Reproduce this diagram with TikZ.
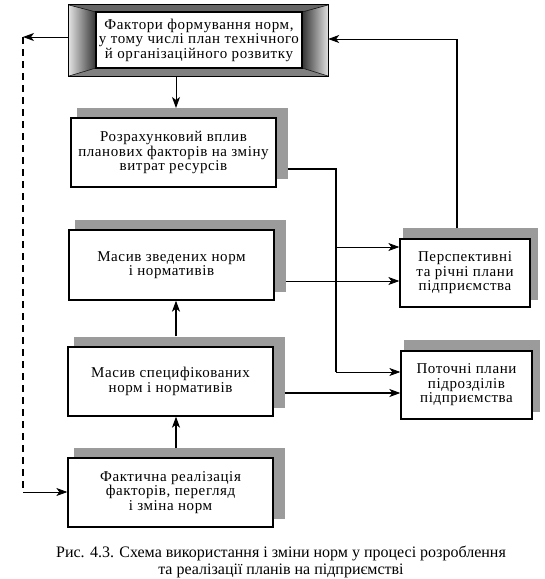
\documentclass[tikz,border=0pt]{standalone}
\usepackage{fontspec}
\setmainfont{Liberation Serif}
\newfontfamily\boxfont{Liberation Serif}[LetterSpace=4]
\usetikzlibrary{arrows.meta,backgrounds,calc}
\definecolor{shadowcol}{RGB}{155,155,155}
\tikzset{
  box/.style={draw=black, line width=1.3pt, fill=white, inner sep=0pt, align=center,
    font=\boxfont\fontsize{15}{14.5}\selectfont},
  conn/.style={draw=black, line width=0.8pt},
  thickconn/.style={draw=black, line width=1.3pt},
  arr/.style={-{Stealth[length=11pt,width=8pt,inset=3pt]}},
  dashconn/.style={draw=black, line width=1.6pt, dash pattern=on 7pt off 5pt},
  capt/.style={align=center, font=\fontsize{16}{17}\selectfont}
}
\begin{document}
\begin{tikzpicture}[x=1pt,y=-1pt]
\useasboundingbox (0,0) rectangle (545,579);
% top bevelled box
\node[inner sep=0pt, minimum width=259pt, minimum height=71pt] (top) at (198.5,40.5) {};
\shade[left color=gray!25, right color=black!80] (69,5) -- (96,12) -- (96,68) -- (69,76) -- cycle;
\shade[left color=black!80, right color=gray!25] (302,12) -- (328,5) -- (328,76) -- (302,68) -- cycle;
\fill[black!60] (69,5) -- (328,5) -- (302,12) -- (96,12) -- cycle;
\fill[black!50] (69,76) -- (328,76) -- (302,68) -- (96,68) -- cycle;
\draw[black, line width=0.5pt] (69,5) -- (96,12) (328,5) -- (302,12) (69,76) -- (96,68) (328,76) -- (302,68);
\draw[black, line width=1.3pt] (top.south west) rectangle (top.north east);
\node[box, minimum width=206pt, minimum height=56pt] (topin) at (199,40) {Фактори формування норм,\\у тому числі план технічного\\й організаційного розвитку};

\node[box, minimum width=205pt, minimum height=69pt] (b2) at (173.5,152.5) {Розрахунковий вплив\\планових факторів на зміну\\витрат ресурсів};
\node[box, minimum width=205pt, minimum height=70pt] (b3) at (171.5,265) {Масив зведених норм\\і нормативів};
\node[box, minimum width=205pt, minimum height=69pt] (b4) at (170.5,381.5) {Масив специфікованих\\норм і нормативів};
\node[box, minimum width=205pt, minimum height=69pt] (b5) at (170.5,492.5) {Фактична реалізація\\факторів, перегляд\\і зміна норм};
\node[box, minimum width=130pt, minimum height=68pt] (persp) at (465,273) {Перспективні\\та річні плани\\підприємства};
\node[box, minimum width=131pt, minimum height=68pt] (pot) at (466.5,385) {Поточні плани\\підрозділів\\підприємства};

\begin{scope}[on background layer]
\foreach \n in {b2,b3,b4,b5}{
  \fill[shadowcol] ([shift={(6.5,-9)}]\n.south west) rectangle ([shift={(11,-9.5)}]\n.north east);
}
\foreach \n in {persp,pot}{
  \fill[shadowcol] ([shift={(4,-8)}]\n.south west) rectangle ([shift={(7.5,-10)}]\n.north east);
}
\end{scope}

\node[capt] (cap) at (281,561.5) {Рис. 4.3. Схема використання і зміни норм у процесі розроблення\\та реалізації планів на підприємстві};

% coordinates
\coordinate (j1) at (336,169);
\coordinate (j2) at (336,247);
\coordinate (j3) at (336,372);
\coordinate (r1) at (457,39);
\coordinate (d1) at (23,37);
\coordinate (d2) at (23,492);

% connectors
\draw[conn,arr] (top.south -| b2.north) ++(2.5,0) coordinate (t0) -- (t0 |- 0,108);
\draw[thickconn] ([shift={(11,16.5)}]b2.east) -- (j1) -- (j3);
\draw[conn,arr] (j2) -- (j2 -| persp.west);
\draw[conn,arr] (j3) -- (j3 -| pot.west);
\draw[conn,arr] ([shift={(11,16)}]b3.east) coordinate (p3) -- (p3 -| persp.west);
\draw[thickconn,arr] ([shift={(11,11.5)}]b4.east) coordinate (q4) -- (q4 -| pot.west);
\draw[thickconn] ([shift={(-8,-10)}]persp.north) -- (r1);
\draw[conn,arr] (r1) -- (r1 -| top.east);
\draw[thickconn,arr] ([shift={(5.5,-10)}]b4.north) coordinate (u4) -- (u4 |- b3.south);
\draw[thickconn,arr] ([shift={(5.5,-9)}]b5.north) coordinate (u5) -- (u5 |- b4.south);
\draw[conn,arr] (d1 -| top.west) -- (d1);
\draw[dashconn] (d1) -- (d2);
\draw[conn,arr] (d2) -- (d2 -| b5.west);
\end{tikzpicture}
\end{document}
